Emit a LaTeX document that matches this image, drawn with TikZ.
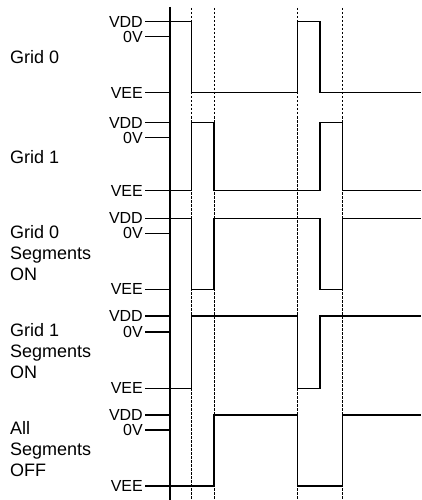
\documentclass[tikz,border=0pt]{standalone}
\usepackage{fontspec}
\setmainfont{Liberation Sans}
\usetikzlibrary{positioning}

\begin{document}
\begin{tikzpicture}[
  x=1pt, y=-1pt,
  lvl/.style={anchor=east, font=\fontsize{16}{18}\selectfont, inner sep=2pt},
  sig/.style={anchor=west, font=\fontsize{18}{21}\selectfont, align=left,
              inner sep=0pt},
  lvltick/.style={draw, line width=1.3pt},
  axis/.style={draw, line width=2pt},
  guide/.style={draw, line width=0.8pt, dash pattern=on 2.5pt off 1.5pt},
  wave/.style={draw, line width=1.3pt, line join=miter}
]
\useasboundingbox (0,0) rectangle (421,500);

% time axis and guides
\draw[axis] (170,7) -- (170,500);
\foreach \t in {191.7,214,297.7,342.3}
  \draw[guide] (\t,8) -- (\t,500);

% level ticks and labels: row/VDD/0V/VEE
\foreach \r/\hi/\mid/\lo in {a/21.7/36.7/92.7, b/122.7/137.7/190.7,
                             c/218.3/233.3/289.3, d/316/332/388.3,
                             e/415/430/486} {
  \node[lvl] (vdd-\r) at (145,\hi)  {VDD};
  \node[lvl] (zero-\r) at (145,\mid) {0V};
  \node[lvl] (vee-\r) at (145,\lo)  {VEE};
  \draw[lvltick] (vdd-\r.east)  -- (170,\hi);
  \draw[lvltick] (zero-\r.east) -- (170,\mid);
  \draw[lvltick] (vee-\r.east)  -- (170,\lo);
}

% signal names
\node[sig] (grid0)  at (10,57.5) {Grid 0};
\node[sig] (grid1)  at (10,157)  {Grid 1};
\node[sig] (seg0)   at (10,252.7) {Grid 0\\Segments\\ON};
\node[sig] (seg1)   at (10,351)  {Grid 1\\Segments\\ON};
\node[sig] (segoff) at (10,449)  {All\\Segments\\OFF};

% waveforms
\draw[wave] (170,21.7) -| (191.7,92.7) -| (297.7,21.7) -| (320,92.7)
  -- (421,92.7);
\draw[wave] (170,190.7) -| (191.7,122.7) -| (214,190.7) -| (320,122.7)
  -| (342.3,190.7) -- (421,190.7);
\draw[wave] (170,218.3) -| (191.7,289.3) -| (214,218.3) -| (320,289.3)
  -| (342.3,218.3) -- (421,218.3);
\draw[wave] (170,388.3) -| (191.7,316) -| (297.7,388.3) -| (320,316)
  -- (421,316);
\draw[wave] (170,486) -| (214,415) -| (297.7,486) -| (342.3,415)
  -- (421,415);
\end{tikzpicture}
\end{document}
